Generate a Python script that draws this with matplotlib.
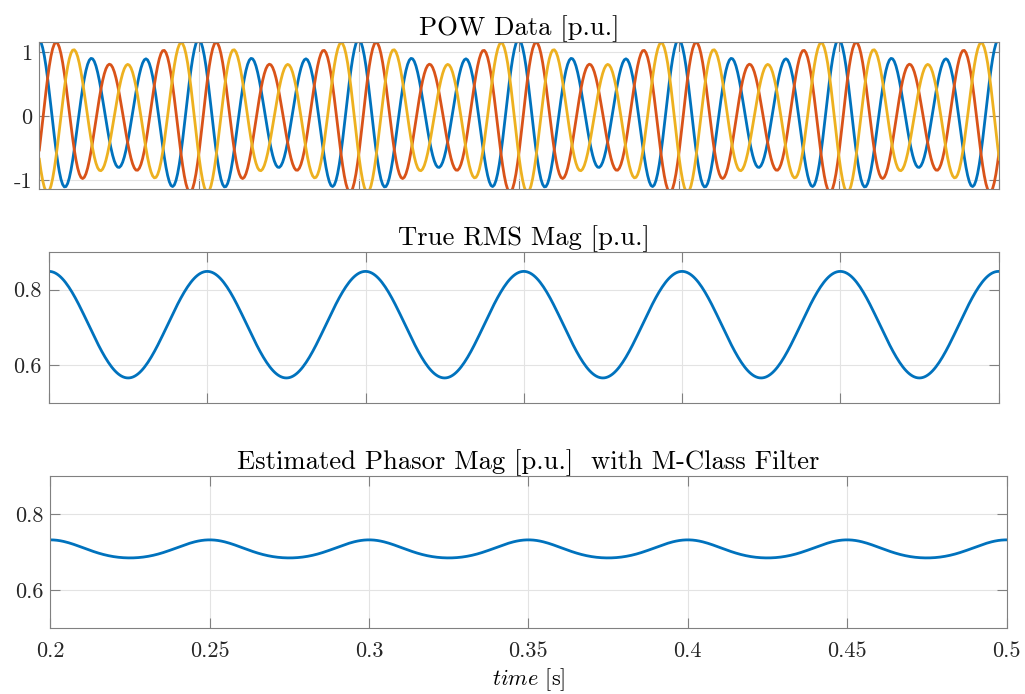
import numpy as np
import matplotlib
matplotlib.use("Agg")
import matplotlib.pyplot as plt

# signal parameters
t_start = 0.2
t_end = 0.5
fs = 1920.0            # samples per second
f_carrier = 60.0       # Hz, 3 cycles per 0.05 s
f_mod = 20.0           # Hz, envelope period 0.05 s
amp = 1.0              # p.u.
mod_depth = 0.2        # peaks swing between 0.8 and 1.2
phase_shift_deg = 4.0  # small offset seen at t = 0.2
phase_angles_deg = [0.0, -120.0, 120.0]

# M-class estimate: mean, 20 Hz swing, small 40 Hz part
est_mean = 0.7078
est_swing = 0.0238
est_second = 0.08

x_ticks = [0.2, 0.25, 0.3, 0.35, 0.4, 0.45, 0.5]
x_tick_labels = ["0.2", "0.25", "0.3", "0.35", "0.4", "0.45", "0.5"]
pow_ticks = [-1, 0, 1]
pow_tick_labels = ["-1", "0", "1"]
mag_ticks = [0.6, 0.8]
mag_tick_labels = ["0.6", "0.8"]

colors = ["#0072BD", "#D95319", "#EDB120"]

t = np.arange(t_start, t_end + 0.5 / fs, 1.0 / fs)
env_phase = 2 * np.pi * f_mod * t
envelope = amp * (1 + mod_depth * np.cos(env_phase))
pow_data = [envelope * np.cos(2 * np.pi * f_carrier * t + np.deg2rad(phase_shift_deg + p))
            for p in phase_angles_deg]
true_rms = envelope / np.sqrt(2)
est_mag = (est_mean - est_swing * est_second
           + est_swing * (np.cos(env_phase) + est_second * np.cos(2 * env_phase)))

plt.rcParams["font.family"] = "serif"
plt.rcParams["font.serif"] = ["cmr10"]
plt.rcParams["mathtext.fontset"] = "cm"
plt.rcParams["axes.unicode_minus"] = False
plt.rcParams["font.size"] = 16

W, H = 1025, 694
fig = plt.figure(figsize=(W / 100, H / 100), dpi=100)


def px_axes(x0, x1, y0, y1):
    return fig.add_axes([x0 / W, 1 - y1 / H, (x1 - x0) / W, (y1 - y0) / H])


def style(ax):
    for s in ax.spines.values():
        s.set_color("#808080")
        s.set_linewidth(0.8)
    ax.grid(True, color="#e3e3e3", linewidth=0.8)
    ax.set_axisbelow(True)
    ax.tick_params(direction="in", length=7, width=0.8, color="#808080",
                   top=True, right=True, labelcolor="#262626", pad=5)
    ax.tick_params(axis="x", pad=10)
    ax.set_xlim(t_start, t_end)
    ax.set_xticks(x_ticks)


ax1 = px_axes(39.3, 999.3, 41.7, 189.3)
ax2 = px_axes(49.0, 998.5, 252.0, 402.7)
ax3 = px_axes(50.3, 1006.5, 476.0, 627.7)

for y, c in zip(pow_data, colors):
    ax1.plot(t, y, color=c, linewidth=2)
style(ax1)
ax1.set_ylim(-1.14, 1.165)
ax1.set_yticks(pow_ticks)
ax1.set_yticklabels(pow_tick_labels)
ax1.set_xticklabels([])
ax1.set_title("POW Data [p.u.]", pad=5)

ax2.plot(t, true_rms, color=colors[0], linewidth=2)
style(ax2)
ax2.set_ylim(0.5, 0.9)
ax2.set_yticks(mag_ticks)
ax2.set_yticklabels(mag_tick_labels)
ax2.set_xticklabels([])
ax2.set_title("True RMS Mag [p.u.]", pad=5)

ax3.plot(t, est_mag, color=colors[0], linewidth=2)
style(ax3)
ax3.set_ylim(0.5, 0.9)
ax3.set_yticks(mag_ticks)
ax3.set_yticklabels(mag_tick_labels)
ax3.set_xticklabels(x_tick_labels)
ax3.set_title("Estimated Phasor Mag [p.u.]  with M-Class Filter", pad=5)
ax3.set_xlabel(r"$time$ [s]", labelpad=4)

fig.savefig("out.png", dpi=100)
